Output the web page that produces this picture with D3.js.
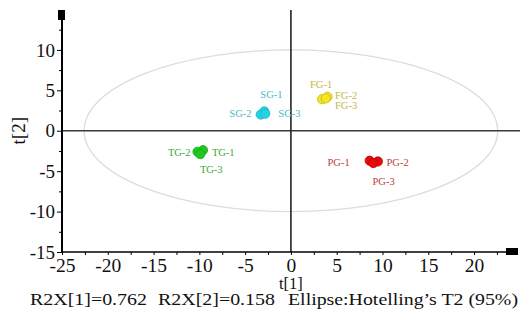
<!DOCTYPE html>
<html>
<head>
<meta charset="utf-8">
<script src="https://cdn.jsdelivr.net/npm/d3@7"></script>
<style>
  body { margin: 0; background: #fff; }
  svg, svg text { font-family: "Liberation Serif", "Times New Roman", serif !important; }
</style>
</head>
<body>
<div id="chart"></div>
<script>
// Groups and their score-plot coordinates (t[1], t[2])
const groups = ["TG", "SG", "FG", "PG"];
const names = {
    TG: ["TG-1", "TG-2", "TG-3"],
    SG: ["SG-1", "SG-2", "SG-3"],
    FG: ["FG-1", "FG-2", "FG-3"],
    PG: ["PG-1", "PG-2", "PG-3"]
};
const t1 = {
    TG: [-9.6, -10.2, -9.9],
    SG: [-2.9, -3.3, -2.8],
    FG: [3.4, 4.0, 3.8],
    PG: [8.6, 9.5, 9.0]
};
const t2 = {
    TG: [-2.4, -2.6, -2.9],
    SG: [2.4, 2.0, 2.1],
    FG: [3.9, 4.2, 4.0],
    PG: [-3.7, -3.8, -4.0]
};
const xTicks = [-25, -20, -15, -10, -5, 0, 5, 10, 15, 20];
const yTicks = [-15, -10, -5, 0, 5, 10];
const ellipseRadii = [22.6, 10];
const footnotes = ["R2X[1]=0.762", "R2X[2]=0.158", "Ellipse:Hotelling\u2019s T2 (95%)"];

// colours per group: [point fill, point stroke, label]
const colors = {
    TG: ["#1ec81e", "#17a817", "#3aa83a"],
    SG: ["#22d3e3", "#19b5c4", "#45b9c9"],
    FG: ["#f2e626", "#c9b90f", "#c2b845"],
    PG: ["#e50b0b", "#c40000", "#c23a3a"]
};
// label offsets (px) from the cluster centre
const labelOffsets = {
    "TG-1": [23, 0], "TG-2": [-21, 0], "TG-3": [11, 17],
    "SG-1": [8, -19], "SG-2": [-23, 0], "SG-3": [26, 0],
    "FG-1": [-4, -14], "FG-2": [21, -3], "FG-3": [21, 7],
    "PG-1": [-35, 1], "PG-2": [24, 1], "PG-3": [10, 20]
};

const width = 520, height = 320;
const svg = d3.select("#chart").append("svg")
    .attr("width", width).attr("height", height);

const x = d3.scaleLinear().domain([-25, 23.6]).range([62, 507]);
const y = d3.scaleLinear().domain([-15, 13.7]).range([252, 20]);
const fmt = d => String(d);   // plain hyphen minus, as in the original

// Hotelling ellipse
svg.append("ellipse")
    .attr("cx", x(0)).attr("cy", y(0))
    .attr("rx", x(ellipseRadii[0]) - x(0))
    .attr("ry", y(0) - y(ellipseRadii[1]))
    .attr("fill", "none")
    .attr("stroke", "#dcdcdc")
    .attr("stroke-width", 1.3);

// zero lines
svg.append("line")
    .attr("x1", x(-25)).attr("x2", 520)
    .attr("y1", y(0)).attr("y2", y(0))
    .attr("stroke", "#3a3a3a").attr("stroke-width", 1.6);
svg.append("line")
    .attr("x1", x(0)).attr("x2", x(0))
    .attr("y1", 10).attr("y2", y(-15))
    .attr("stroke", "#222").attr("stroke-width", 1.6);

// Y axis
const yMinor = d3.range(-12.5, 13.7, 5);
svg.append("g")
    .attr("transform", `translate(${x(-25)},0)`)
    .call(d3.axisLeft(y).tickValues(yMinor).tickSize(3).tickFormat(""))
    .call(g => g.select(".domain").remove());
svg.append("g")
    .attr("transform", `translate(${x(-25)},0)`)
    .call(d3.axisLeft(y).tickValues(yTicks).tickSize(5).tickPadding(2).tickFormat(fmt))
    .call(g => g.select(".domain").remove())
    .call(g => g.selectAll("text").attr("font-size", 19).attr("fill", "#111"));

// X axis
const xMinor = d3.range(-22.5, 23.6, 5);
svg.append("g")
    .attr("transform", `translate(0,${y(-15)})`)
    .call(d3.axisBottom(x).tickValues(xMinor).tickSize(3).tickFormat(""))
    .call(g => g.select(".domain").remove());
svg.append("g")
    .attr("transform", `translate(0,${y(-15)})`)
    .call(d3.axisBottom(x).tickValues(xTicks).tickSize(3).tickPadding(3).tickFormat(fmt))
    .call(g => g.select(".domain").remove())
    .call(g => g.selectAll("text").attr("font-size", 19.5).attr("fill", "#111"));

// axis lines and end caps
svg.append("line")
    .attr("x1", x(-25)).attr("x2", x(-25))
    .attr("y1", 18).attr("y2", y(-15) + 1)
    .attr("stroke", "#000").attr("stroke-width", 2);
svg.append("line")
    .attr("x1", x(-25)).attr("x2", 508)
    .attr("y1", y(-15)).attr("y2", y(-15))
    .attr("stroke", "#000").attr("stroke-width", 1.6);
svg.append("rect").attr("x", x(-25) - 4).attr("y", 10).attr("width", 7).attr("height", 10).attr("fill", "#000");
svg.append("rect").attr("x", 506).attr("y", y(-15) - 4).attr("width", 12).attr("height", 7).attr("fill", "#000");

// points and labels
groups.forEach(gname => {
    const pts = names[gname].map((n, i) => ({ name: n, t1: t1[gname][i], t2: t2[gname][i] }));
    const cx = x(d3.mean(pts, d => d.t1));
    const cy = y(d3.mean(pts, d => d.t2));
    const c = colors[gname];

    svg.append("g").selectAll("circle")
        .data(pts).enter().append("circle")
        .attr("cx", d => x(d.t1))
        .attr("cy", d => y(d.t2))
        .attr("r", 4.6)
        .attr("fill", c[0])
        .attr("stroke", c[1])
        .attr("stroke-width", 0.8);

    svg.append("g").selectAll("text")
        .data(pts).enter().append("text")
        .attr("x", d => cx + labelOffsets[d.name][0])
        .attr("y", d => cy + labelOffsets[d.name][1])
        .attr("text-anchor", "middle")
        .attr("dominant-baseline", "central")
        .attr("font-size", 10.5)
        .attr("fill", c[2])
        .text(d => d.name);
});

// axis titles
svg.append("text")
    .attr("transform", `translate(25,${y(0)}) rotate(-90)`)
    .attr("text-anchor", "middle")
    .attr("font-size", 19)
    .attr("fill", "#111")
    .text("t[2]");
svg.append("text")
    .attr("x", x(0))
    .attr("y", 289)
    .attr("text-anchor", "middle")
    .attr("font-size", 16.5)
    .attr("fill", "#111")
    .text("t[1]");

// footnote
const footX = [30, 158, 288];
const footW = [117, 117, 230];
footnotes.forEach((t, i) => {
    svg.append("text")
        .attr("x", footX[i])
        .attr("y", 305)
        .attr("font-size", 17.5)
        .attr("textLength", footW[i])
        .attr("lengthAdjust", "spacingAndGlyphs")
        .attr("fill", "#111")
        .text(t);
});
</script>
</body>
</html>
